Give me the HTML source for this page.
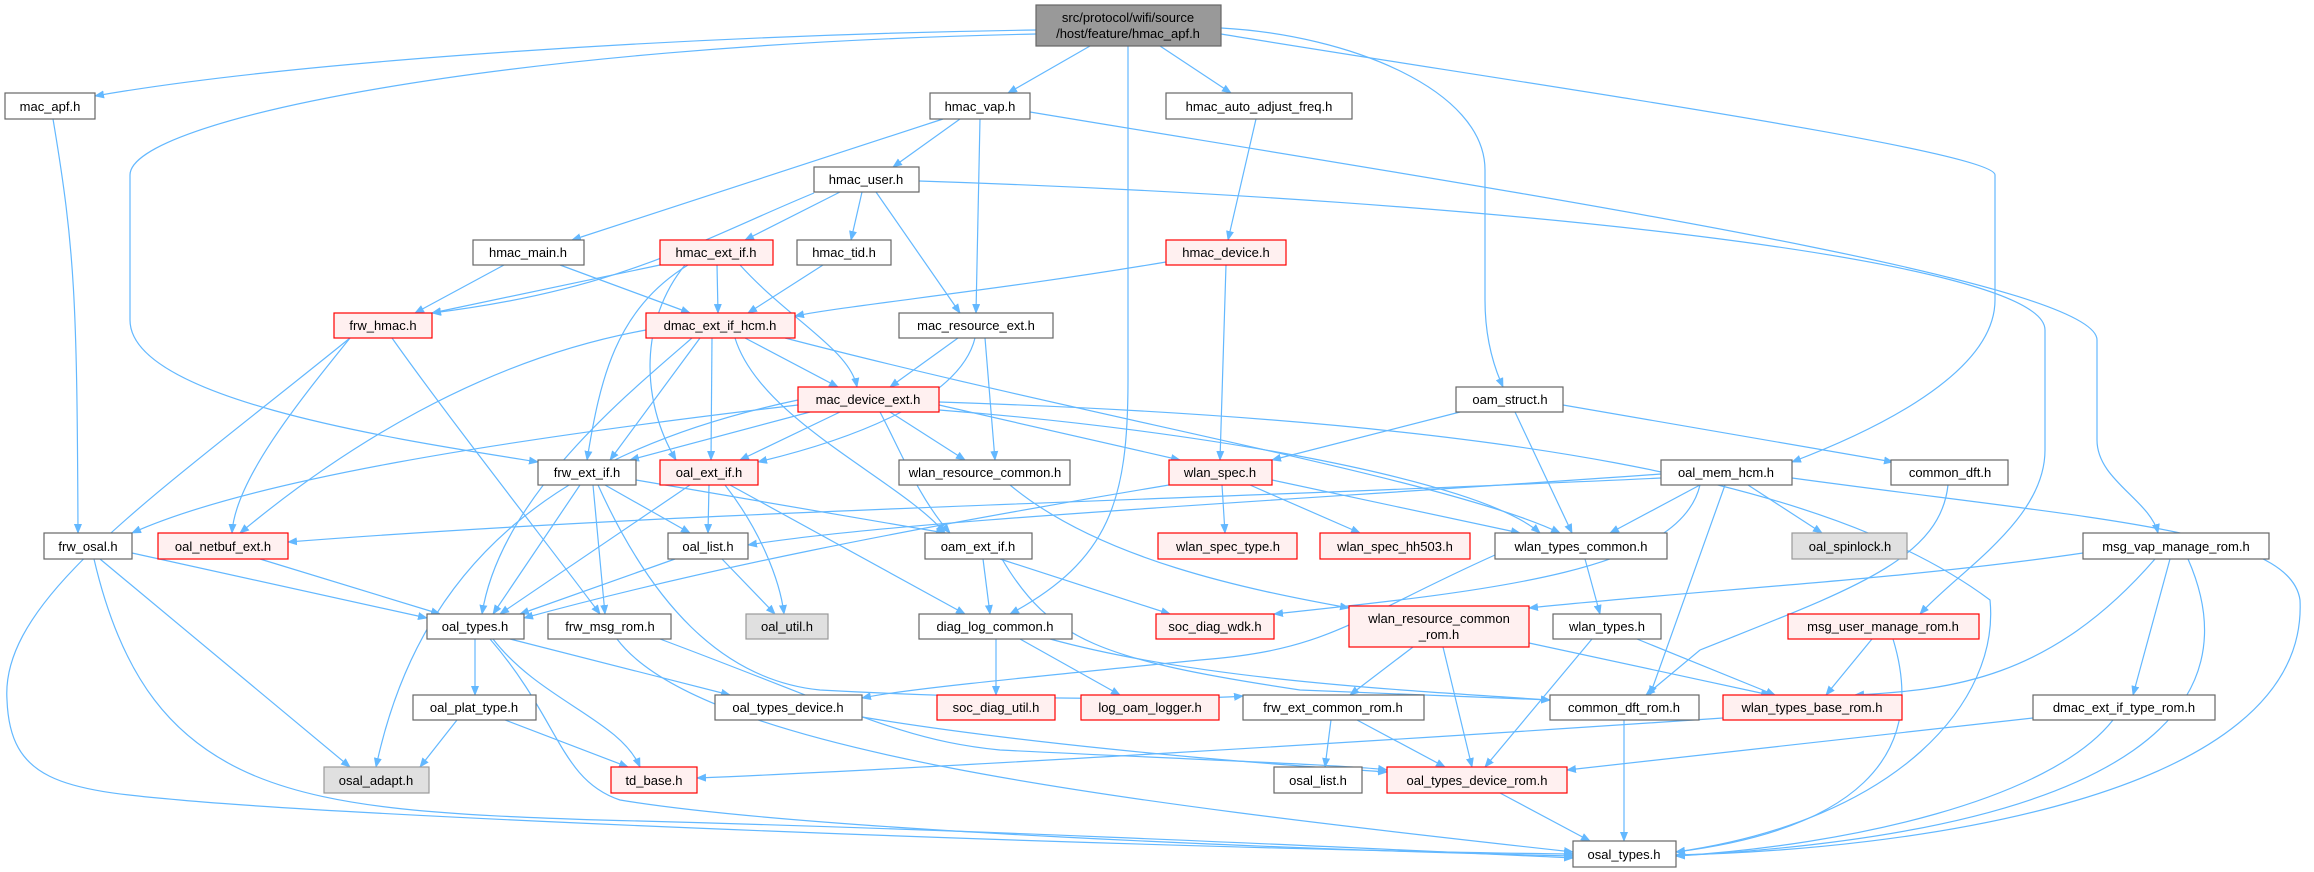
<!DOCTYPE html>
<html><head><meta charset="utf-8"><style>
html,body{margin:0;padding:0;background:#fff;}
svg{display:block;}
text{font-family:"Liberation Sans",sans-serif;font-size:13px;fill:#000;text-anchor:middle;}
.e{fill:none;stroke:#63b8ff;stroke-width:1.2;marker-end:url(#a);}
.n{fill:#fff;stroke:#666;stroke-width:1.2;}
.r{fill:#fff0f0;stroke:#f00;stroke-width:1.2;}
.g{fill:#e0e0e0;stroke:#999;stroke-width:1.2;}
.root{fill:#999;stroke:#666;stroke-width:1.2;}
</style></head><body>
<svg width="2314" height="872" viewBox="0 0 2314 872" xmlns="http://www.w3.org/2000/svg">
<defs><marker id="a" markerWidth="10" markerHeight="8" refX="9" refY="4" orient="auto" markerUnits="userSpaceOnUse"><path d="M0,0 L10,4 L0,8 z" fill="#63b8ff"/></marker></defs>
<g>
<path class="e" d="M1036 30 C700 35,300 60,95 96"/>
<path class="e" d="M1036 34 C500 45,130 120,130 175 L130 320 C130 400,400 440,538 462"/>
<path class="e" d="M1090 46 L1008 93"/>
<path class="e" d="M1128 46 L1128 380 C1128 500,1110 560,1010 614"/>
<path class="e" d="M1160 46 L1231 93"/>
<path class="e" d="M1221 28 C1350 35,1485 90,1485 170 L1485 300 C1485 350,1500 380,1503 387"/>
<path class="e" d="M1221 34 C1500 80,1995 150,1995 175 L1995 300 C1995 380,1850 440,1792 462"/>
<path class="e" d="M53 119 C75 250,77 300,78 533"/>
<path class="e" d="M960 119 L893 167"/>
<path class="e" d="M943 119 L572 240"/>
<path class="e" d="M980 119 L976 313"/>
<path class="e" d="M1030 112 C1500 190,2097 280,2097 340 L2097 440 C2097 480,2150 500,2158 533"/>
<path class="e" d="M840 192 L745 240"/>
<path class="e" d="M862 192 L851 240"/>
<path class="e" d="M876 192 L960 313"/>
<path class="e" d="M814 193 C700 240,620 290,432 313"/>
<path class="e" d="M919 181 C1500 200,2045 260,2045 330 L2045 450 C2045 520,1960 570,1920 614"/>
<path class="e" d="M1256 119 L1228 240"/>
<path class="e" d="M1166 262 C1000 290,850 305,795 316"/>
<path class="e" d="M1226 265 L1220 460"/>
<path class="e" d="M504 265 L415 313"/>
<path class="e" d="M560 265 L690 313"/>
<path class="e" d="M660 265 L432 313"/>
<path class="e" d="M717 265 L718 313"/>
<path class="e" d="M740 265 C790 320,850 350,857 387"/>
<path class="e" d="M688 265 C615 310,600 380,587 460"/>
<path class="e" d="M685 265 C640 320,640 400,676 460"/>
<path class="e" d="M823 265 L748 313"/>
<path class="e" d="M350 338 C300 400,235 480,232 533"/>
<path class="e" d="M392 338 C450 420,560 560,600 614"/>
<path class="e" d="M350 338 C150 500,0 600,7 700 C10 780,60 790,180 800 C400 820,1200 850,1573 854"/>
<path class="e" d="M745 338 L838 387"/>
<path class="e" d="M700 338 L610 460"/>
<path class="e" d="M712 338 L711 460"/>
<path class="e" d="M692 338 C620 400,500 500,482 614"/>
<path class="e" d="M735 338 C760 420,900 480,945 533"/>
<path class="e" d="M646 330 C480 360,340 450,240 533"/>
<path class="e" d="M785 338 C1100 420,1450 480,1560 533"/>
<path class="e" d="M958 338 L890 387"/>
<path class="e" d="M975 338 C960 400,850 440,758 462"/>
<path class="e" d="M985 338 L995 460"/>
<path class="e" d="M810 412 L630 460"/>
<path class="e" d="M840 412 L740 460"/>
<path class="e" d="M880 412 C900 450,920 500,950 533"/>
<path class="e" d="M890 412 L965 460"/>
<path class="e" d="M939 405 L1180 460"/>
<path class="e" d="M939 410 C1200 430,1480 480,1540 533"/>
<path class="e" d="M798 405 C500 440,250 480,132 533"/>
<path class="e" d="M798 400 C560 450,420 560,376 767"/>
<path class="e" d="M939 402 C1500 420,1830 480,1990 600 C2000 700,1900 820,1676 852"/>
<path class="e" d="M1460 412 L1272 460"/>
<path class="e" d="M1515 412 L1572 533"/>
<path class="e" d="M1563 405 L1893 462"/>
<path class="e" d="M605 485 L690 533"/>
<path class="e" d="M580 485 L493 614"/>
<path class="e" d="M593 485 L605 614"/>
<path class="e" d="M636 480 L945 533"/>
<path class="e" d="M598 485 C650 600,720 680,820 690 C1000 700,1200 700,1243 696"/>
<path class="e" d="M709 485 L708 533"/>
<path class="e" d="M690 485 L500 614"/>
<path class="e" d="M725 485 C760 530,780 580,784 614"/>
<path class="e" d="M730 485 L965 614"/>
<path class="e" d="M1222 485 L1225 533"/>
<path class="e" d="M1250 485 L1360 533"/>
<path class="e" d="M1272 480 L1520 533"/>
<path class="e" d="M1169 485 C900 530,700 570,524 618"/>
<path class="e" d="M1661 478 C1200 500,700 510,288 542"/>
<path class="e" d="M1661 474 C1300 500,900 520,748 545"/>
<path class="e" d="M1700 485 L1610 533"/>
<path class="e" d="M1748 485 L1822 533"/>
<path class="e" d="M1700 485 C1680 570,1500 590,1274 614"/>
<path class="e" d="M1725 485 L1650 695"/>
<path class="e" d="M1792 478 C2100 520,2290 530,2300 600 C2310 800,1900 850,1676 855"/>
<path class="e" d="M1948 485 C1940 560,1850 590,1700 650 L1646 695"/>
<path class="e" d="M132 553 L427 618"/>
<path class="e" d="M100 559 L350 767"/>
<path class="e" d="M94 559 C150 800,300 810,600 820 C1000 830,1400 850,1573 858"/>
<path class="e" d="M260 559 L440 614"/>
<path class="e" d="M675 559 L520 614"/>
<path class="e" d="M722 559 L775 614"/>
<path class="e" d="M983 559 L990 614"/>
<path class="e" d="M1000 559 L1170 614"/>
<path class="e" d="M1002 559 C1050 640,1100 660,1300 690 L1550 700"/>
<path class="e" d="M1010 485 C1100 560,1250 590,1349 608"/>
<path class="e" d="M1585 559 L1600 614"/>
<path class="e" d="M1495 555 C1350 620,1330 650,1200 660 C1000 680,900 690,862 698"/>
<path class="e" d="M2083 553 C1900 580,1700 590,1529 608"/>
<path class="e" d="M2155 559 C2050 680,1950 690,1855 695"/>
<path class="e" d="M2170 559 L2133 695"/>
<path class="e" d="M2188 559 C2250 700,2150 830,1676 856"/>
<path class="e" d="M475 639 L475 695"/>
<path class="e" d="M510 639 L730 695"/>
<path class="e" d="M493 639 C540 700,620 720,640 767"/>
<path class="e" d="M490 639 C560 720,560 780,620 800 C800 830,1300 850,1573 856"/>
<path class="e" d="M660 639 C850 710,900 740,1000 750 C1200 760,1350 765,1387 770"/>
<path class="e" d="M617 639 C700 750,1100 800,1573 852"/>
<path class="e" d="M996 639 L996 695"/>
<path class="e" d="M1020 639 L1120 695"/>
<path class="e" d="M1050 639 C1200 680,1400 690,1550 700"/>
<path class="e" d="M1413 647 L1350 695"/>
<path class="e" d="M1443 647 L1472 767"/>
<path class="e" d="M1529 643 L1770 695"/>
<path class="e" d="M1637 639 L1775 695"/>
<path class="e" d="M1592 639 L1485 767"/>
<path class="e" d="M1872 639 L1826 695"/>
<path class="e" d="M1893 639 C1930 760,1850 830,1676 852"/>
<path class="e" d="M457 720 L420 767"/>
<path class="e" d="M505 720 L628 767"/>
<path class="e" d="M862 717 C1000 740,1200 760,1387 772"/>
<path class="e" d="M1331 720 L1325 767"/>
<path class="e" d="M1357 720 L1445 767"/>
<path class="e" d="M1624 720 L1624 841"/>
<path class="e" d="M1723 718 C1400 740,900 770,697 778"/>
<path class="e" d="M2033 718 L1567 770"/>
<path class="e" d="M2113 720 C2050 800,1850 845,1676 856"/>
<path class="e" d="M1500 793 L1590 841"/>
</g>
<g>
<rect class="root" x="1036" y="5" width="185" height="41"/><text x="1128" y="22">src/protocol/wifi/source</text><text x="1128" y="38">/host/feature/hmac_apf.h</text>
<rect class="n" x="5" y="93" width="90" height="26"/><text x="50" y="111">mac_apf.h</text>
<rect class="n" x="930" y="93" width="100" height="26"/><text x="980" y="111">hmac_vap.h</text>
<rect class="n" x="1166" y="93" width="186" height="26"/><text x="1259" y="111">hmac_auto_adjust_freq.h</text>
<rect class="n" x="814" y="167" width="105" height="25"/><text x="866" y="184">hmac_user.h</text>
<rect class="n" x="473" y="240" width="111" height="25"/><text x="528" y="257">hmac_main.h</text>
<rect class="r" x="660" y="240" width="113" height="25"/><text x="716" y="257">hmac_ext_if.h</text>
<rect class="n" x="797" y="240" width="94" height="25"/><text x="844" y="257">hmac_tid.h</text>
<rect class="r" x="1166" y="240" width="120" height="25"/><text x="1226" y="257">hmac_device.h</text>
<rect class="r" x="334" y="313" width="98" height="25"/><text x="383" y="330">frw_hmac.h</text>
<rect class="r" x="646" y="313" width="149" height="25"/><text x="720" y="330">dmac_ext_if_hcm.h</text>
<rect class="n" x="899" y="313" width="154" height="25"/><text x="976" y="330">mac_resource_ext.h</text>
<rect class="r" x="798" y="387" width="141" height="25"/><text x="868" y="404">mac_device_ext.h</text>
<rect class="n" x="1456" y="387" width="107" height="25"/><text x="1510" y="404">oam_struct.h</text>
<rect class="n" x="538" y="460" width="98" height="25"/><text x="587" y="477">frw_ext_if.h</text>
<rect class="r" x="660" y="460" width="98" height="25"/><text x="709" y="477">oal_ext_if.h</text>
<rect class="n" x="899" y="460" width="171" height="25"/><text x="985" y="477">wlan_resource_common.h</text>
<rect class="r" x="1169" y="460" width="103" height="25"/><text x="1220" y="477">wlan_spec.h</text>
<rect class="n" x="1661" y="460" width="131" height="25"/><text x="1726" y="477">oal_mem_hcm.h</text>
<rect class="n" x="1891" y="460" width="117" height="25"/><text x="1950" y="477">common_dft.h</text>
<rect class="n" x="44" y="533" width="88" height="26"/><text x="88" y="551">frw_osal.h</text>
<rect class="r" x="158" y="533" width="130" height="26"/><text x="223" y="551">oal_netbuf_ext.h</text>
<rect class="n" x="668" y="533" width="80" height="26"/><text x="708" y="551">oal_list.h</text>
<rect class="n" x="925" y="533" width="107" height="26"/><text x="978" y="551">oam_ext_if.h</text>
<rect class="r" x="1158" y="533" width="139" height="26"/><text x="1228" y="551">wlan_spec_type.h</text>
<rect class="r" x="1320" y="533" width="150" height="26"/><text x="1395" y="551">wlan_spec_hh503.h</text>
<rect class="n" x="1495" y="533" width="172" height="26"/><text x="1581" y="551">wlan_types_common.h</text>
<rect class="g" x="1792" y="533" width="115" height="26"/><text x="1850" y="551">oal_spinlock.h</text>
<rect class="n" x="2083" y="533" width="186" height="26"/><text x="2176" y="551">msg_vap_manage_rom.h</text>
<rect class="n" x="427" y="614" width="97" height="25"/><text x="475" y="631">oal_types.h</text>
<rect class="n" x="548" y="614" width="123" height="25"/><text x="610" y="631">frw_msg_rom.h</text>
<rect class="g" x="746" y="614" width="82" height="25"/><text x="787" y="631">oal_util.h</text>
<rect class="n" x="919" y="614" width="153" height="25"/><text x="995" y="631">diag_log_common.h</text>
<rect class="r" x="1156" y="614" width="118" height="25"/><text x="1215" y="631">soc_diag_wdk.h</text>
<rect class="r" x="1349" y="606" width="180" height="41"/><text x="1439" y="623">wlan_resource_common</text><text x="1439" y="639">_rom.h</text>
<rect class="n" x="1553" y="614" width="108" height="25"/><text x="1607" y="631">wlan_types.h</text>
<rect class="r" x="1788" y="614" width="191" height="25"/><text x="1883" y="631">msg_user_manage_rom.h</text>
<rect class="n" x="413" y="695" width="123" height="25"/><text x="474" y="712">oal_plat_type.h</text>
<rect class="n" x="715" y="695" width="147" height="25"/><text x="788" y="712">oal_types_device.h</text>
<rect class="r" x="937" y="695" width="118" height="25"/><text x="996" y="712">soc_diag_util.h</text>
<rect class="r" x="1081" y="695" width="138" height="25"/><text x="1150" y="712">log_oam_logger.h</text>
<rect class="n" x="1243" y="695" width="181" height="25"/><text x="1333" y="712">frw_ext_common_rom.h</text>
<rect class="n" x="1550" y="695" width="149" height="25"/><text x="1624" y="712">common_dft_rom.h</text>
<rect class="r" x="1723" y="695" width="179" height="25"/><text x="1812" y="712">wlan_types_base_rom.h</text>
<rect class="n" x="2033" y="695" width="182" height="25"/><text x="2124" y="712">dmac_ext_if_type_rom.h</text>
<rect class="g" x="324" y="767" width="105" height="26"/><text x="376" y="785">osal_adapt.h</text>
<rect class="r" x="611" y="767" width="86" height="26"/><text x="654" y="785">td_base.h</text>
<rect class="n" x="1274" y="767" width="88" height="26"/><text x="1318" y="785">osal_list.h</text>
<rect class="r" x="1387" y="767" width="180" height="26"/><text x="1477" y="785">oal_types_device_rom.h</text>
<rect class="n" x="1573" y="841" width="103" height="26"/><text x="1624" y="859">osal_types.h</text>
</g>
</svg>
</body></html>
